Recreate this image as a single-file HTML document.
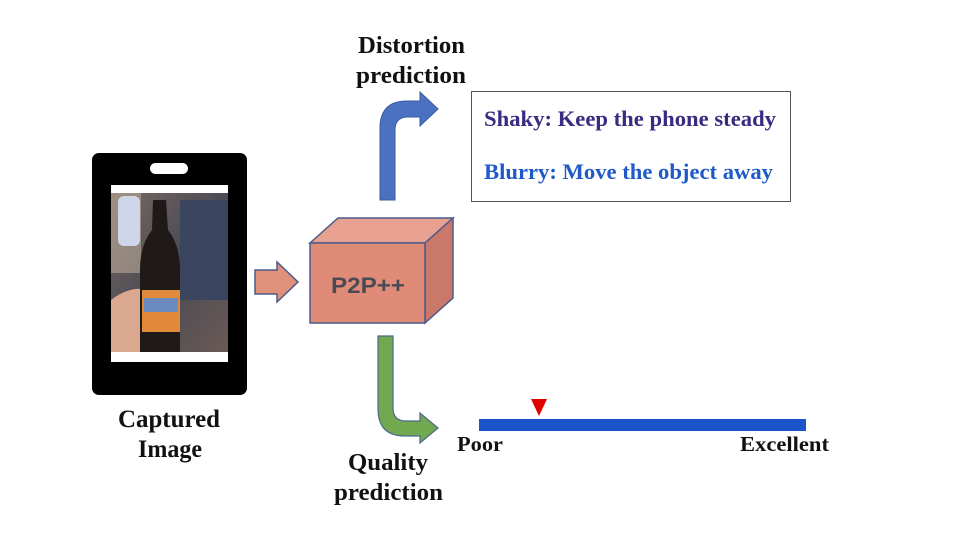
<!DOCTYPE html>
<html><head><meta charset="utf-8"><style>
html,body{margin:0;padding:0;background:#fff;}
svg{display:block;}
.s{font-family:"Liberation Serif","Times New Roman",serif;font-weight:700;}
</style></head><body>
<svg width="960" height="540" viewBox="0 0 960 540" xmlns="http://www.w3.org/2000/svg">
<defs>
<linearGradient id="ph" x1="0" y1="0" x2="1" y2="1">
<stop offset="0" stop-color="#7a6a60"/><stop offset="0.5" stop-color="#4a4a55"/><stop offset="1" stop-color="#6a5a55"/>
</linearGradient>
</defs>
<rect x="92" y="153" width="155" height="242" rx="7" fill="#000"/>
<rect x="150" y="163" width="38" height="11" rx="5.5" fill="#fff"/>
<rect x="111" y="185" width="117" height="177" fill="#fff"/>
<rect x="111" y="193" width="117" height="159" fill="url(#ph)"/>
<rect x="111" y="193" width="30" height="80" fill="#b8a89a" opacity="0.6"/>
<rect x="118" y="196" width="22" height="50" rx="6" fill="#cfd6ea"/>
<rect x="180" y="200" width="48" height="100" fill="#3c4560"/>
<path d="M111 300 Q130 285 150 290 L170 352 L111 352 Z" fill="#d9a88e"/>
<path d="M153 200 L166 200 L168 230 Q180 245 180 270 L180 352 L140 352 L140 270 Q140 245 152 230 Z" fill="#1f1a18"/>
<rect x="142" y="290" width="38" height="42" fill="#e08a3a"/>
<rect x="144" y="298" width="34" height="14" fill="#6a8ac0"/>
<polygon points="255,270 277,270 277,262 298,282 277,302 277,294 255,294" fill="#e0917b" stroke="#4a5a8a" stroke-width="1.5"/>
<polygon points="310,243 338,218 453,218 425,243" fill="#e8a090" stroke="#4a5a8a" stroke-width="1.5"/>
<polygon points="425,243 453,218 453,298 425,323" fill="#c9786a" stroke="#4a5a8a" stroke-width="1.5"/>
<rect x="310" y="243" width="115" height="80" fill="#e08a78" stroke="#4a5a8a" stroke-width="1.5"/>
<text x="331" y="293" textLength="74" lengthAdjust="spacingAndGlyphs" font-family="Liberation Sans, sans-serif" font-weight="bold" font-size="22" fill="#4a4a55">P2P++</text>
<path d="M380 200 L380 128 Q380 101 407 101 L420 101 L420 92 L438 109 L420 126 L420 117 L408 117 Q395 117 395 130 L395 200 Z" fill="#4a72c0" stroke="#3a5aa0" stroke-width="1"/>
<path d="M378 336 L393 336 L393 408 Q393 421 406 421 L420 421 L420 413 L438 428 L420 443 L420 436 L405 436 Q378 436 378 409 Z" fill="#72a850" stroke="#4a6a8a" stroke-width="1.2"/>
<g class="s" fill="#111">
<text x="358" y="53" textLength="107" lengthAdjust="spacingAndGlyphs" font-size="24">Distortion</text>
<text x="356" y="83" textLength="110" lengthAdjust="spacingAndGlyphs" font-size="24">prediction</text>
<text x="118" y="427" textLength="102" lengthAdjust="spacingAndGlyphs" font-size="25">Captured</text>
<text x="138" y="457" textLength="64" lengthAdjust="spacingAndGlyphs" font-size="25">Image</text>
<text x="348" y="470" textLength="80" lengthAdjust="spacingAndGlyphs" font-size="24">Quality</text>
<text x="334" y="500" textLength="109" lengthAdjust="spacingAndGlyphs" font-size="24">prediction</text>
<text x="457" y="451" textLength="46" lengthAdjust="spacingAndGlyphs" font-size="21">Poor</text>
<text x="740" y="451" textLength="89" lengthAdjust="spacingAndGlyphs" font-size="21">Excellent</text>
</g>
<rect x="471.5" y="91.5" width="319" height="110" fill="#fff" stroke="#555" stroke-width="1"/>
<text class="s" x="484" y="126" textLength="292" lengthAdjust="spacingAndGlyphs" font-size="22" fill="#3a2a80">Shaky: Keep the phone steady</text>
<text class="s" x="484" y="179" textLength="289" lengthAdjust="spacingAndGlyphs" font-size="22" fill="#1e5ac8">Blurry: Move the object away</text>
<rect x="479" y="419" width="327" height="12" fill="#1a54c8"/>
<polygon points="531,399 547,399 539,416" fill="#e00000"/>
</svg>
</body></html>
